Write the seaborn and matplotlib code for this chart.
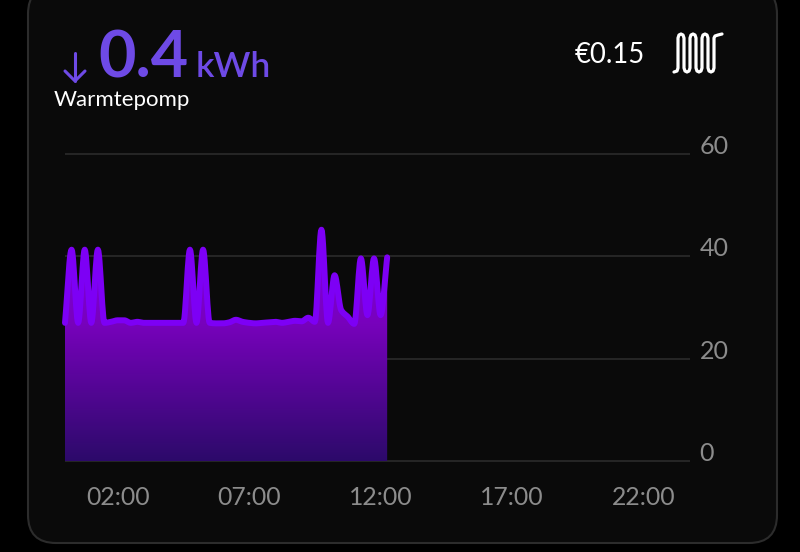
"""
Warmtepomp energy card, dark dashboard style.
"""

import matplotlib.pyplot as plt
import numpy as np
import pandas as pd
import seaborn as sns
from matplotlib.lines import Line2D
from matplotlib.patches import FancyBboxPatch
from matplotlib.transforms import IdentityTransform

# quarter-hour readings
hours = np.arange(50) * 0.25
power = [27.0, 41.3, 27.0, 41.3, 27.0, 41.3, 27.0, 27.2, 27.5, 27.5,
         27.0, 27.2, 27.0, 27.0, 27.0, 27.0, 27.0, 27.0, 27.0, 41.3,
         27.0, 41.3, 27.0, 26.9, 26.9, 27.1, 27.6, 27.2, 27.0, 26.9,
         27.0, 27.1, 27.2, 27.0, 27.2, 27.4, 27.3, 28.0, 27.2, 45.2,
         27.0, 36.3, 29.5, 28.2, 26.8, 39.6, 28.5, 39.6, 28.5, 39.8]

y_ticks = [0, 20, 40, 60]
x_ticks = [2, 7, 12, 17, 22]
x_labels = ['02:00', '07:00', '12:00', '17:00', '22:00']

W, H = 800, 552
BG = '#0a0a0a'
LINE = '#7d00f5'
ACCENT = '#6e4ae6'
GREY = '#8c8c8c'


def smooth(x, y, n=12):
    """Monotone cubic curve through the readings, only for drawing."""
    x, y = np.asarray(x), np.asarray(y, dtype=float)
    h = np.diff(x)
    d = np.diff(y) / h
    m = np.zeros_like(y)
    m[0], m[-1] = d[0], d[-1]
    for i in range(1, len(y) - 1):
        if d[i - 1] * d[i] > 0:
            m[i] = 2 * d[i - 1] * d[i] / (d[i - 1] + d[i])
    xs, ys = [], []
    for i in range(len(h)):
        t = np.linspace(0, 1, n, endpoint=False)
        xs.append(x[i] + t * h[i])
        ys.append((2 * t ** 3 - 3 * t ** 2 + 1) * y[i] + (t ** 3 - 2 * t ** 2 + t) * h[i] * m[i]
                  + (-2 * t ** 3 + 3 * t ** 2) * y[i + 1] + (t ** 3 - t ** 2) * h[i] * m[i + 1])
    return np.r_[np.concatenate(xs), x[-1]], np.r_[np.concatenate(ys), y[-1]]


sns.set_theme(style='dark', rc={'figure.facecolor': 'black', 'axes.facecolor': 'none'})
plt.rcParams['font.family'] = ['Lato', 'DejaVu Sans']

fig = plt.figure(figsize=(W / 100, H / 100), dpi=100)


def fx(px):
    return px / W


def fy(py):
    return 1 - py / H


# card, top edge runs off the picture
card = FancyBboxPatch((28, 9), 749, 557, boxstyle='round,pad=0,rounding_size=28',
                      transform=IdentityTransform(), facecolor=BG, edgecolor='#2c2c2c',
                      linewidth=1.5, zorder=-1)
fig.add_artist(card)

ax = fig.add_axes([fx(65), fy(461), 625 / W, 307 / H])

df = pd.DataFrame({'hour': hours, 'power': power})
xs, ys = smooth(df['hour'], df['power'])

# gradient area: image clipped to the area under the curve
area = ax.fill_between(xs, 0, ys, color='none', linewidth=0)
levels = np.linspace(0, 46, 256)
stops = [0, 27, 46]
rgb = np.stack([np.interp(levels, stops, [0x2c, 0x78, 0x80]),
                np.interp(levels, stops, [0x0a, 0x02, 0x00]),
                np.interp(levels, stops, [0x6a, 0xbc, 0xf0])], axis=-1)[:, None, :] / 255
img = ax.imshow(rgb, origin='lower', aspect='auto', extent=[0, xs[-1], 0, 46], zorder=2)
img.set_clip_path(area.get_paths()[0], ax.transData)
ax.set_xlim(0, 625 / 26.3)
ax.set_ylim(0, 60)

smooth_df = pd.DataFrame({'hour': xs, 'power': ys})
sns.lineplot(data=smooth_df, x='hour', y='power', ax=ax, color=LINE, linewidth=4.3,
             estimator=None, sort=False, zorder=3, clip_on=False)

ax.grid(False)
for val in y_ticks:
    ax.axhline(val, color='#282828', linewidth=1.3, zorder=1, clip_on=False,
               solid_capstyle='butt')

ax.set_xlabel('')
ax.set_ylabel('')
ax.set_xticks(x_ticks)
ax.set_xticklabels(x_labels)
ax.set_yticks(y_ticks)
ax.yaxis.tick_right()
ax.tick_params(axis='x', length=0, pad=18, labelsize=17.8, labelcolor=GREY)
ax.tick_params(axis='y', length=0, pad=7, labelsize=18, labelcolor=GREY)
for lab in ax.get_yticklabels():
    lab.set_verticalalignment('baseline')
for spine in ax.spines.values():
    spine.set_visible(False)

# header
fig.text(fx(98), fy(78), '0.4', color=ACCENT, fontsize=46.5, fontweight='bold', va='baseline')
fig.text(fx(196), fy(77), 'kWh', color=ACCENT, fontsize=25.5, fontweight='semibold', va='baseline')
fig.text(fx(54), fy(106), 'Warmtepomp', color='white', fontsize=16, va='baseline')
fig.text(fx(575), fy(63), '€0.15', color='white', fontsize=19.8, va='baseline')

# down arrow
fig.add_artist(Line2D([fx(75), fx(75)], [fy(53), fy(81)], color=ACCENT, linewidth=2.2))
fig.add_artist(Line2D([fx(65), fx(75), fx(85)], [fy(71), fy(81), fy(71)], color=ACCENT,
                      linewidth=2.2, solid_joinstyle='round'))

# heater icon, serpentine
top, bot = 34, 72
path_x = [fx(674), fx(677), fx(678)]
path_y = [fy(bot), fy(bot - 1), fy(bot - 4)]
for i, px in enumerate([678, 684, 690, 696, 702, 708]):
    edge = top if i % 2 == 0 else bot
    sign = 1 if i % 2 == 0 else -1
    path_x += [fx(px), fx(px + 1), fx(px + 3), fx(px + 5), fx(px + 6)]
    path_y += [fy(edge + 4 * sign), fy(edge + sign), fy(edge), fy(edge + sign), fy(edge + 4 * sign)]
path_x += [fx(714), fx(715), fx(718), fx(722)]
path_y += [fy(top + 4), fy(top + 2), fy(top + 1), fy(top)]
fig.add_artist(Line2D(path_x, path_y, color='white', linewidth=2.3, solid_joinstyle='round',
                      solid_capstyle='round'))

fig.savefig('out.png', dpi=100, facecolor='black')
plt.close(fig)
